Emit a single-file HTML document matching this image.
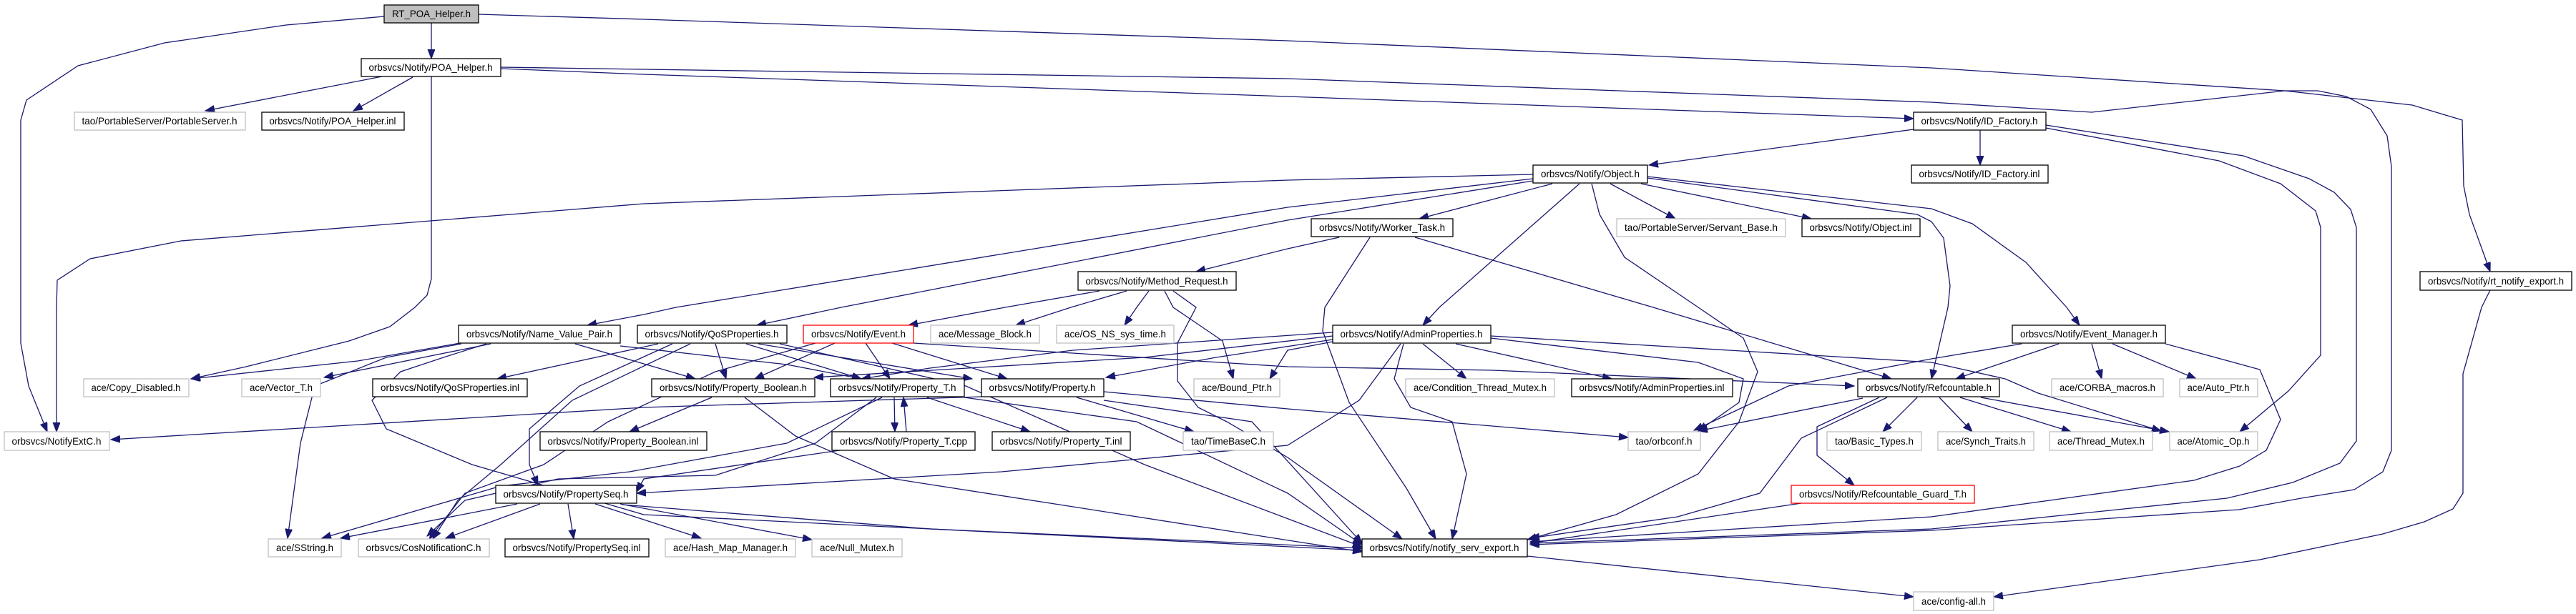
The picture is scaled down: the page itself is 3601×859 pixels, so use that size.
<!DOCTYPE html>
<html><head><meta charset="utf-8"><style>
html,body{margin:0;padding:0;background:#fff;}
svg{display:block;}
text{font-family:"Liberation Sans",sans-serif;font-size:14px;fill:#000;}
.e{fill:none;stroke:#191970;stroke-width:1.3;}
</style></head><body>
<svg width="3601" height="859" viewBox="0 0 3601 859" xmlns="http://www.w3.org/2000/svg">
<defs><marker id="a" markerUnits="userSpaceOnUse" markerWidth="14" markerHeight="11" refX="13" refY="5" orient="auto"><path d="M0,0 L13,5 L0,10 z" fill="#191970" stroke="#191970"/></marker></defs>
<g class="e" marker-end="url(#a)">
<polyline points="603,32 603,82"/>
<polyline points="537,23 400,35 230,60 109,92 37,140 29,168 29,480 40,540 66,604"/>
<polyline points="669,20 900,27 1800,57 2700,95 3194,127 3372,147 3442,168 3444,260 3452,300 3481,380"/>
<polyline points="534,107 287,155"/>
<polyline points="577,108 494,155"/>
<polyline points="700,96 900,104 1800,135 2675,166"/>
<polyline points="700,94 900,97 1800,110 2700,143 2924,157 3194,127 3240,127 3280,135 3314,153 3337,190 3343,233 3343,630 3331,660 3291,685 3217,697 3130,713 2700,742 2139,762"/>
<polyline points="603,107 603,390 597,413 580,430 545,457 488,477 344,513 267,530"/>
<polyline points="2768,182 2768,231"/>
<polyline points="2860,175 3136,218 3228,250 3263,269 3286,293 3294,318 3294,617 3271,648 3205,675 3113,697 2700,740 2139,760"/>
<polyline points="2860,179 3102,225 3188,257 3237,295 3244,318 3244,497 3199,547 3131,604"/>
<polyline points="2675,181 2305,231"/>
<polyline points="2170,257 1984,306"/>
<polyline points="2251,257 2342,306"/>
<polyline points="2294,257 2532,306"/>
<polyline points="2143,244 1800,252 900,285 253,337 126,362 80,392 79,430 79,604"/>
<polyline points="2143,250 1800,290 945,430 900,440 821,455"/>
<polyline points="2143,253 1800,308 1176,430 1058,455"/>
<polyline points="2208,257 2012,430 1989,455"/>
<polyline points="2225,257 2236,300 2271,360 2374,430 2437,473 2457,520 2431,590 2374,663 2259,720 2135,755"/>
<polyline points="2303,247 2700,292 2757,313 2832,367 2889,430 2907,455"/>
<polyline points="2303,249 2680,300 2700,310 2717,333 2726,400 2723,430 2700,530"/>
<polyline points="1872,332 1800,348 1672,380"/>
<polyline points="1915,332 1852,430 1849,463 1886,563 1966,683 2007,754"/>
<polyline points="1978,332 2311,430 2644,530"/>
<polyline points="3481,406 3469,430 3443,523 3443,690 3429,712 3389,730 3331,747 3159,783 2787,835"/>
<polyline points="2135,778 2675,835"/>
<polyline points="1537,407 1405,430 1270,455"/>
<polyline points="1575,407 1497,430 1420,455"/>
<polyline points="1606,407 1589,430 1572,455"/>
<polyline points="1628,407 1640,430 1709,477 1724,530"/>
<polyline points="1640,407 1672,430 1646,480 1646,533 1675,570 1715,590 1800,640 1960,754"/>
<polyline points="1167,480 1055,530"/>
<polyline points="1210,480 1244,530"/>
<polyline points="1247,480 1408,530"/>
<polyline points="1277,480 1800,513 2087,518 2592,540"/>
<polyline points="1140,480 1000,520 850,590 760,650 650,690 600,754"/>
<polyline points="920,481 695,530"/>
<polyline points="1000,481 1015,530"/>
<polyline points="1043,481 1204,530"/>
<polyline points="1060,481 1359,530"/>
<polyline points="940,481 810,540 740,600 740,650 752,679"/>
<polyline points="965,481 800,560 700,650 640,700 605,754"/>
<polyline points="1090,481 1350,540 1600,650 1904,765"/>
<polyline points="804,481 972,530"/>
<polyline points="867,484 1100,510 1204,530"/>
<polyline points="643,480 500,505 267,530"/>
<polyline points="686,481 453,528"/>
<polyline points="645,481 540,500 440,540 420,620 402,753"/>
<polyline points="680,481 620,500 560,520 520,560 540,600 660,650 900,720 1904,770"/>
<polyline points="995,556 880,604"/>
<polyline points="1041,556 1112,610 1250,670 1904,772"/>
<polyline points="1250,556 1251,604"/>
<polyline points="1267,604 1263,556"/>
<polyline points="1296,556 1440,604"/>
<polyline points="1233,556 1100,620 880,660 700,680 450,753"/>
<polyline points="1225,556 1140,620 1000,665 780,670 650,700 597,750"/>
<polyline points="1348,556 1589,590 1800,690 1904,762"/>
<polyline points="1505,556 1669,604"/>
<polyline points="1543,548 1800,572 2276,612"/>
<polyline points="1543,560 1750,590 1904,760"/>
<polyline points="1372,555 900,570 155,615"/>
<polyline points="1174,630 900,670 890,688"/>
<polyline points="723,705 476,753"/>
<polyline points="755,705 623,753"/>
<polyline points="794,705 802,754"/>
<polyline points="832,705 980,753"/>
<polyline points="867,705 1135,755"/>
<polyline points="870,706 1300,740 1904,767"/>
<polyline points="1989,481 2050,530"/>
<polyline points="2035,481 2253,530"/>
<polyline points="2084,473 2374,507 2437,530 2431,563 2374,603"/>
<polyline points="2084,470 2700,507 2803,530 2849,550 3021,603"/>
<polyline points="1962,481 1949,530 1972,570 2030,590 2050,663 2030,754"/>
<polyline points="1958,481 1900,560 1800,623 1400,660 890,690"/>
<polyline points="1863,470 1600,500 1138,528"/>
<polyline points="1863,475 1700,500 1546,528"/>
<polyline points="1863,478 1800,490 1775,530"/>
<polyline points="1863,465 1500,490 1300,515 1204,530"/>
<polyline points="2878,481 2734,530"/>
<polyline points="2826,481 2700,502 2500,540 2368,602"/>
<polyline points="2924,481 2938,530"/>
<polyline points="2953,481 3070,530"/>
<polyline points="3027,481 3159,517 3188,587 3168,630 3131,652 3067,672 2700,723 2139,758"/>
<polyline points="2604,557 2374,603"/>
<polyline points="2680,556 2632,604"/>
<polyline points="2711,556 2757,604"/>
<polyline points="2740,556 2895,604"/>
<polyline points="2769,556 3032,604"/>
<polyline points="2627,556 2540,597 2540,637 2592,679"/>
<polyline points="2638,556 2518,613 2460,690 2345,723 2139,753"/>
<polyline points="2518,704 2139,760"/>
</g>
<g stroke-width="1.3">
<rect x="537" y="7" width="132" height="25" fill="#bfbfbf" stroke="#000"/><text x="603" y="24" text-anchor="middle" textLength="110" lengthAdjust="spacingAndGlyphs">RT_POA_Helper.h</text>
<rect x="505" y="82" width="195" height="25" fill="#fff" stroke="#000"/><text x="602" y="99" text-anchor="middle" textLength="173" lengthAdjust="spacingAndGlyphs">orbsvcs/Notify/POA_Helper.h</text>
<rect x="104" y="157" width="239" height="25" fill="#fff" stroke="#bfbfbf"/><text x="223" y="174" text-anchor="middle" textLength="217" lengthAdjust="spacingAndGlyphs">tao/PortableServer/PortableServer.h</text>
<rect x="366" y="157" width="199" height="25" fill="#fff" stroke="#000"/><text x="465" y="174" text-anchor="middle" textLength="177" lengthAdjust="spacingAndGlyphs">orbsvcs/Notify/POA_Helper.inl</text>
<rect x="2675" y="157" width="185" height="25" fill="#fff" stroke="#000"/><text x="2767" y="174" text-anchor="middle" textLength="163" lengthAdjust="spacingAndGlyphs">orbsvcs/Notify/ID_Factory.h</text>
<rect x="2143" y="231" width="160" height="25" fill="#fff" stroke="#000"/><text x="2223" y="248" text-anchor="middle" textLength="138" lengthAdjust="spacingAndGlyphs">orbsvcs/Notify/Object.h</text>
<rect x="2672" y="231" width="191" height="25" fill="#fff" stroke="#000"/><text x="2767" y="248" text-anchor="middle" textLength="169" lengthAdjust="spacingAndGlyphs">orbsvcs/Notify/ID_Factory.inl</text>
<rect x="1833" y="306" width="198" height="25" fill="#fff" stroke="#000"/><text x="1932" y="323" text-anchor="middle" textLength="176" lengthAdjust="spacingAndGlyphs">orbsvcs/Notify/Worker_Task.h</text>
<rect x="2260" y="306" width="236" height="25" fill="#fff" stroke="#bfbfbf"/><text x="2378" y="323" text-anchor="middle" textLength="214" lengthAdjust="spacingAndGlyphs">tao/PortableServer/Servant_Base.h</text>
<rect x="2519" y="306" width="165" height="25" fill="#fff" stroke="#000"/><text x="2601" y="323" text-anchor="middle" textLength="143" lengthAdjust="spacingAndGlyphs">orbsvcs/Notify/Object.inl</text>
<rect x="1507" y="380" width="221" height="26" fill="#fff" stroke="#000"/><text x="1617" y="398" text-anchor="middle" textLength="199" lengthAdjust="spacingAndGlyphs">orbsvcs/Notify/Method_Request.h</text>
<rect x="3383" y="380" width="212" height="26" fill="#fff" stroke="#000"/><text x="3489" y="398" text-anchor="middle" textLength="190" lengthAdjust="spacingAndGlyphs">orbsvcs/Notify/rt_notify_export.h</text>
<rect x="641" y="455" width="226" height="25" fill="#fff" stroke="#000"/><text x="754" y="472" text-anchor="middle" textLength="204" lengthAdjust="spacingAndGlyphs">orbsvcs/Notify/Name_Value_Pair.h</text>
<rect x="891" y="455" width="209" height="25" fill="#fff" stroke="#000"/><text x="995" y="472" text-anchor="middle" textLength="187" lengthAdjust="spacingAndGlyphs">orbsvcs/Notify/QoSProperties.h</text>
<rect x="1123" y="455" width="154" height="25" fill="#fff" stroke="#ff0000"/><text x="1200" y="472" text-anchor="middle" textLength="132" lengthAdjust="spacingAndGlyphs">orbsvcs/Notify/Event.h</text>
<rect x="1301" y="455" width="152" height="25" fill="#fff" stroke="#bfbfbf"/><text x="1377" y="472" text-anchor="middle" textLength="130" lengthAdjust="spacingAndGlyphs">ace/Message_Block.h</text>
<rect x="1477" y="455" width="164" height="25" fill="#fff" stroke="#bfbfbf"/><text x="1559" y="472" text-anchor="middle" textLength="142" lengthAdjust="spacingAndGlyphs">ace/OS_NS_sys_time.h</text>
<rect x="1863" y="455" width="221" height="25" fill="#fff" stroke="#000"/><text x="1973" y="472" text-anchor="middle" textLength="199" lengthAdjust="spacingAndGlyphs">orbsvcs/Notify/AdminProperties.h</text>
<rect x="2813" y="455" width="214" height="25" fill="#fff" stroke="#000"/><text x="2920" y="472" text-anchor="middle" textLength="192" lengthAdjust="spacingAndGlyphs">orbsvcs/Notify/Event_Manager.h</text>
<rect x="117" y="530" width="147" height="25" fill="#fff" stroke="#bfbfbf"/><text x="190" y="547" text-anchor="middle" textLength="125" lengthAdjust="spacingAndGlyphs">ace/Copy_Disabled.h</text>
<rect x="338" y="530" width="110" height="25" fill="#fff" stroke="#bfbfbf"/><text x="393" y="547" text-anchor="middle" textLength="88" lengthAdjust="spacingAndGlyphs">ace/Vector_T.h</text>
<rect x="521" y="530" width="216" height="25" fill="#fff" stroke="#000"/><text x="629" y="547" text-anchor="middle" textLength="194" lengthAdjust="spacingAndGlyphs">orbsvcs/Notify/QoSProperties.inl</text>
<rect x="911" y="530" width="228" height="25" fill="#fff" stroke="#000"/><text x="1025" y="547" text-anchor="middle" textLength="206" lengthAdjust="spacingAndGlyphs">orbsvcs/Notify/Property_Boolean.h</text>
<rect x="1161" y="530" width="187" height="25" fill="#fff" stroke="#000"/><text x="1254" y="547" text-anchor="middle" textLength="165" lengthAdjust="spacingAndGlyphs">orbsvcs/Notify/Property_T.h</text>
<rect x="1372" y="530" width="171" height="25" fill="#fff" stroke="#000"/><text x="1457" y="547" text-anchor="middle" textLength="149" lengthAdjust="spacingAndGlyphs">orbsvcs/Notify/Property.h</text>
<rect x="1669" y="530" width="120" height="25" fill="#fff" stroke="#bfbfbf"/><text x="1729" y="547" text-anchor="middle" textLength="98" lengthAdjust="spacingAndGlyphs">ace/Bound_Ptr.h</text>
<rect x="1965" y="530" width="208" height="25" fill="#fff" stroke="#bfbfbf"/><text x="2069" y="547" text-anchor="middle" textLength="186" lengthAdjust="spacingAndGlyphs">ace/Condition_Thread_Mutex.h</text>
<rect x="2197" y="530" width="225" height="25" fill="#fff" stroke="#000"/><text x="2309" y="547" text-anchor="middle" textLength="203" lengthAdjust="spacingAndGlyphs">orbsvcs/Notify/AdminProperties.inl</text>
<rect x="2597" y="530" width="198" height="25" fill="#fff" stroke="#000"/><text x="2696" y="547" text-anchor="middle" textLength="176" lengthAdjust="spacingAndGlyphs">orbsvcs/Notify/Refcountable.h</text>
<rect x="2868" y="530" width="156" height="25" fill="#fff" stroke="#bfbfbf"/><text x="2946" y="547" text-anchor="middle" textLength="134" lengthAdjust="spacingAndGlyphs">ace/CORBA_macros.h</text>
<rect x="3047" y="530" width="109" height="25" fill="#fff" stroke="#bfbfbf"/><text x="3101" y="547" text-anchor="middle" textLength="87" lengthAdjust="spacingAndGlyphs">ace/Auto_Ptr.h</text>
<rect x="6" y="604" width="147" height="26" fill="#fff" stroke="#bfbfbf"/><text x="79" y="622" text-anchor="middle" textLength="125" lengthAdjust="spacingAndGlyphs">orbsvcs/NotifyExtC.h</text>
<rect x="755" y="604" width="233" height="26" fill="#fff" stroke="#000"/><text x="871" y="622" text-anchor="middle" textLength="211" lengthAdjust="spacingAndGlyphs">orbsvcs/Notify/Property_Boolean.inl</text>
<rect x="1163" y="604" width="200" height="26" fill="#fff" stroke="#000"/><text x="1263" y="622" text-anchor="middle" textLength="178" lengthAdjust="spacingAndGlyphs">orbsvcs/Notify/Property_T.cpp</text>
<rect x="1387" y="604" width="193" height="26" fill="#fff" stroke="#000"/><text x="1483" y="622" text-anchor="middle" textLength="171" lengthAdjust="spacingAndGlyphs">orbsvcs/Notify/Property_T.inl</text>
<rect x="1654" y="604" width="126" height="26" fill="#fff" stroke="#bfbfbf"/><text x="1717" y="622" text-anchor="middle" textLength="104" lengthAdjust="spacingAndGlyphs">tao/TimeBaseC.h</text>
<rect x="2276" y="604" width="101" height="26" fill="#fff" stroke="#bfbfbf"/><text x="2326" y="622" text-anchor="middle" textLength="79" lengthAdjust="spacingAndGlyphs">tao/orbconf.h</text>
<rect x="2554" y="604" width="132" height="26" fill="#fff" stroke="#bfbfbf"/><text x="2620" y="622" text-anchor="middle" textLength="110" lengthAdjust="spacingAndGlyphs">tao/Basic_Types.h</text>
<rect x="2709" y="604" width="134" height="26" fill="#fff" stroke="#bfbfbf"/><text x="2776" y="622" text-anchor="middle" textLength="112" lengthAdjust="spacingAndGlyphs">ace/Synch_Traits.h</text>
<rect x="2865" y="604" width="144" height="26" fill="#fff" stroke="#bfbfbf"/><text x="2937" y="622" text-anchor="middle" textLength="122" lengthAdjust="spacingAndGlyphs">ace/Thread_Mutex.h</text>
<rect x="3033" y="604" width="123" height="26" fill="#fff" stroke="#bfbfbf"/><text x="3094" y="622" text-anchor="middle" textLength="101" lengthAdjust="spacingAndGlyphs">ace/Atomic_Op.h</text>
<rect x="693" y="679" width="197" height="25" fill="#fff" stroke="#000"/><text x="791" y="696" text-anchor="middle" textLength="175" lengthAdjust="spacingAndGlyphs">orbsvcs/Notify/PropertySeq.h</text>
<rect x="2504" y="679" width="256" height="25" fill="#fff" stroke="#ff0000"/><text x="2632" y="696" text-anchor="middle" textLength="234" lengthAdjust="spacingAndGlyphs">orbsvcs/Notify/Refcountable_Guard_T.h</text>
<rect x="375" y="754" width="102" height="25" fill="#fff" stroke="#bfbfbf"/><text x="426" y="771" text-anchor="middle" textLength="80" lengthAdjust="spacingAndGlyphs">ace/SString.h</text>
<rect x="501" y="754" width="183" height="25" fill="#fff" stroke="#bfbfbf"/><text x="592" y="771" text-anchor="middle" textLength="161" lengthAdjust="spacingAndGlyphs">orbsvcs/CosNotificationC.h</text>
<rect x="706" y="754" width="201" height="25" fill="#fff" stroke="#000"/><text x="806" y="771" text-anchor="middle" textLength="179" lengthAdjust="spacingAndGlyphs">orbsvcs/Notify/PropertySeq.inl</text>
<rect x="930" y="754" width="182" height="25" fill="#fff" stroke="#bfbfbf"/><text x="1021" y="771" text-anchor="middle" textLength="160" lengthAdjust="spacingAndGlyphs">ace/Hash_Map_Manager.h</text>
<rect x="1135" y="754" width="126" height="25" fill="#fff" stroke="#bfbfbf"/><text x="1198" y="771" text-anchor="middle" textLength="104" lengthAdjust="spacingAndGlyphs">ace/Null_Mutex.h</text>
<rect x="1904" y="754" width="231" height="25" fill="#fff" stroke="#000"/><text x="2019" y="771" text-anchor="middle" textLength="209" lengthAdjust="spacingAndGlyphs">orbsvcs/Notify/notify_serv_export.h</text>
<rect x="2675" y="828" width="112" height="26" fill="#fff" stroke="#bfbfbf"/><text x="2731" y="846" text-anchor="middle" textLength="90" lengthAdjust="spacingAndGlyphs">ace/config-all.h</text>
</g>
</svg>
</body></html>
